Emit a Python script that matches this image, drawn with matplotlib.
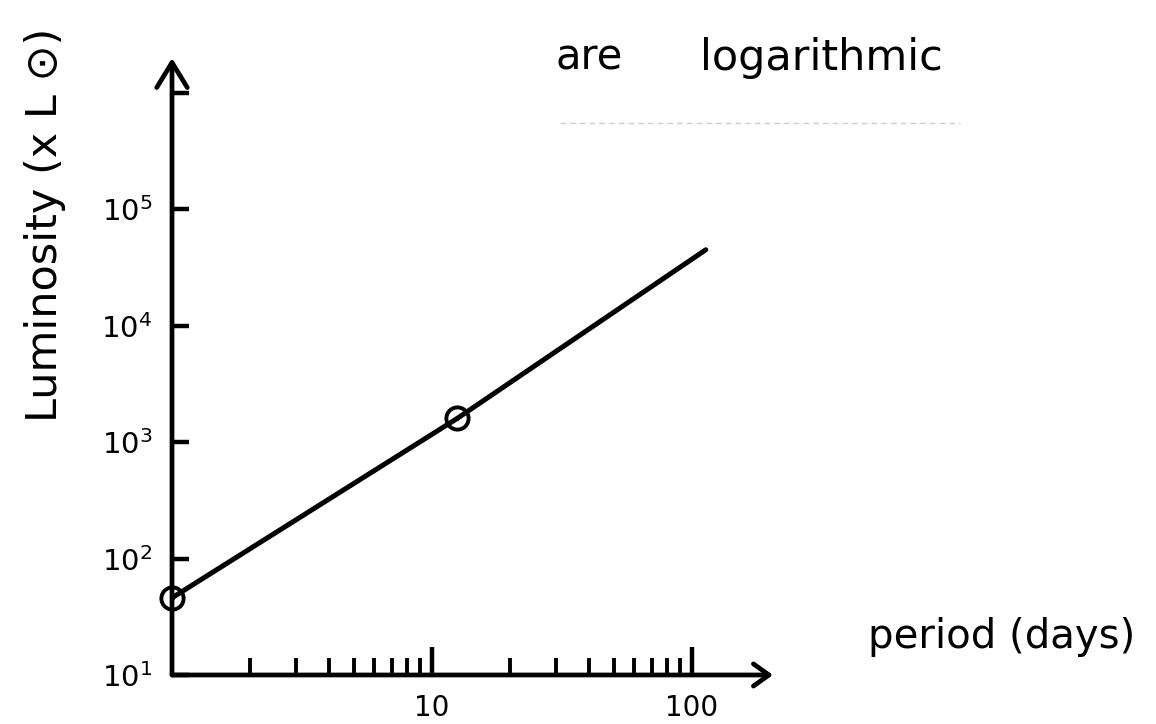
import matplotlib
matplotlib.use("Agg")
import matplotlib.pyplot as plt
from matplotlib.ticker import FixedLocator, FixedFormatter, NullFormatter
from matplotlib.lines import Line2D

# Period-luminosity relation, both axes logarithmic
period_days = [1, 12.5, 113]
luminosity = [46, 1600, 45000]

# the two circled stars on the line
marked_period = [1, 12.5]
marked_luminosity = [46, 1600]

x_major = [10, 100]
x_major_labels = ["10", "100"]
x_minor = [2, 3, 4, 5, 6, 7, 8, 9, 20, 30, 40, 50, 60, 70, 80, 90]
y_ticks = [1e1, 1e2, 1e3, 1e4, 1e5, 1e6]
y_tick_labels = [r"$10^1$", r"$10^2$", r"$10^3$", r"$10^4$", r"$10^5$", ""]

plt.rcParams["font.family"] = ["DejaVu Sans"]

fig = plt.figure(figsize=(11.56, 7.24), dpi=100)
ax = fig.add_axes([0.1488, 0.0677, 0.5199, 0.8522])

ax.set_xscale("log")
ax.set_yscale("log")
ax.set_xlim(1, 205)
ax.set_ylim(10, 2.0e6)

# main line and circled points
ax.plot(period_days, luminosity, color="black", lw=3.6, solid_capstyle="round", zorder=3)
ax.plot(marked_period, marked_luminosity, "o", mfc="none", mec="black", ms=16, mew=2.8,
        clip_on=False, zorder=4)
ax.plot(marked_period, marked_luminosity, ".", color="black", ms=5, clip_on=False, zorder=4)

# axes drawn as arrows instead of spines
for s in ax.spines.values():
    s.set_visible(False)
ax.annotate("", xy=(0, 1), xytext=(0, 0), xycoords="axes fraction",
            arrowprops=dict(arrowstyle="->,head_length=0.9,head_width=0.55", lw=3.4,
                            color="black", shrinkA=0, shrinkB=0, mutation_scale=20))
ax.annotate("", xy=(1, 0), xytext=(0, 0), xycoords="axes fraction",
            arrowprops=dict(arrowstyle="->,head_length=0.7,head_width=0.5", lw=3.4,
                            color="black", shrinkA=0, shrinkB=0, mutation_scale=16))

ax.xaxis.set_major_locator(FixedLocator(x_major))
ax.xaxis.set_major_formatter(FixedFormatter(x_major_labels))
ax.xaxis.set_minor_locator(FixedLocator(x_minor))
ax.xaxis.set_minor_formatter(NullFormatter())
ax.yaxis.set_major_locator(FixedLocator(y_ticks))
ax.yaxis.set_major_formatter(FixedFormatter(y_tick_labels))
ax.yaxis.set_minor_locator(FixedLocator([]))

ax.tick_params(axis="x", which="major", direction="in", length=20, width=3.2, pad=14, labelsize=20)
ax.tick_params(axis="x", which="minor", direction="in", length=12, width=2.8)
ax.tick_params(axis="y", which="major", direction="in", length=12, width=3.2, pad=14, labelsize=21)

# labels written around the plot
fig.text(45 / 1156, 1 - 225 / 724, "Luminosity (x L \u2299)", rotation=90,
         ha="center", va="center", fontsize=31)
fig.text(868 / 1156, 1 - 637 / 724, "period (days)", ha="left", va="center", fontsize=29)
fig.text(556 / 1156, 1 - 58 / 724, "are", ha="left", va="center", fontsize=30)
fig.text(700 / 1156, 1 - 58 / 724, "logarithmic", ha="left", va="center", fontsize=31)

# faint ruled line under the heading
fig.add_artist(Line2D([560 / 1156, 960 / 1156], [1 - 123 / 724] * 2, color="0.8", lw=1,
                      ls=(0, (4, 3))))

fig.savefig("out.png", dpi=100)
